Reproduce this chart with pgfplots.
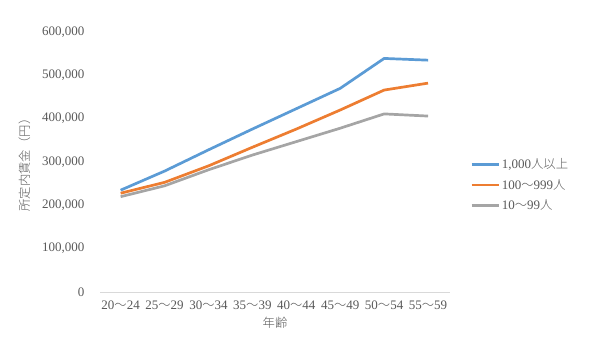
\documentclass[border=0pt]{standalone}
\usepackage{fontspec}
\setmainfont{Liberation Serif}
\newfontfamily\cjk{Noto Sans CJK JP Light}[Scale=0.95]
\usepackage{pgfplots}
\pgfplotsset{compat=1.18}
\definecolor{sblue}{HTML}{5B9BD5}
\definecolor{sorange}{HTML}{ED7D31}
\definecolor{sgray}{HTML}{A5A5A5}
\definecolor{txt}{HTML}{595959}
\definecolor{axl}{HTML}{D9D9D9}
\newcommand{\ti}{{\cjk ～}}
\begin{document}
\begin{tikzpicture}[x=1bp,y=1bp]
\useasboundingbox (0,0) rectangle (590,356);
\begin{axis}[
  at={(100bp,64bp)}, anchor=south west,
  scale only axis, width=350bp, height=260bp,
  xmin=-0.47, xmax=7.5, ymin=0, ymax=600000,
  axis x line*=bottom, axis y line*=left,
  x axis line style={draw=axl, line width=0.8bp, -},
  y axis line style={draw=none},
  major tick length=0pt,
  xtick={0,...,7},
  xticklabels={20\ti24,25\ti29,30\ti34,35\ti39,40\ti44,45\ti49,50\ti54,55\ti59},
  ytick={0,100000,...,600000},
  scaled y ticks=false,
  /pgf/number format/.cd, fixed, 1000 sep={,}, assume math mode=true,
  /pgfplots/.cd,
  tick label style={font=\fontsize{13bp}{15bp}\selectfont, text=txt},
  yticklabel style={xshift=-12bp},
  xticklabel style={yshift=-5bp},
  xlabel={{\cjk 年齢}},
  ylabel={{\cjk 所定内賃金（円）}},
  label style={font=\fontsize{13bp}{15bp}\selectfont, text=txt},
  xlabel style={at={(axis description cs:0.5,-0.12)}, anchor=center},
  ylabel style={at={(axis description cs:-0.215,0.5)}, anchor=center, rotate=0},
  legend style={draw=none, fill=none, at={(axis description cs:1.057,0.4115)}, anchor=west,
    font=\fontsize{13bp}{15bp}\selectfont, text=txt, row sep=5bp, inner sep=0pt},
  legend cell align=left,
  legend image code/.code={\draw[#1, line width=2.7bp] (0,0) -- (27bp,0);},
  every axis plot/.append style={line width=2.7bp, line join=round, mark=none},
]
\addplot[sblue] coordinates {(0,235000)(1,279000)(2,328000)(3,376000)(4,423000)(5,470000)(6,539000)(7,535000)};
\addlegendentry{1,000{\cjk 人以上}}
\addplot[sorange] coordinates {(0,228000)(1,253000)(2,291000)(3,334000)(4,376000)(5,420000)(6,466000)(7,482000)};
\addlegendentry{100\ti999{\cjk 人}}
\addplot[sgray] coordinates {(0,220000)(1,245000)(2,282000)(3,316000)(4,347000)(5,378000)(6,411000)(7,406000)};
\addlegendentry{10\ti99{\cjk 人}}
\end{axis}
\end{tikzpicture}
\end{document}
